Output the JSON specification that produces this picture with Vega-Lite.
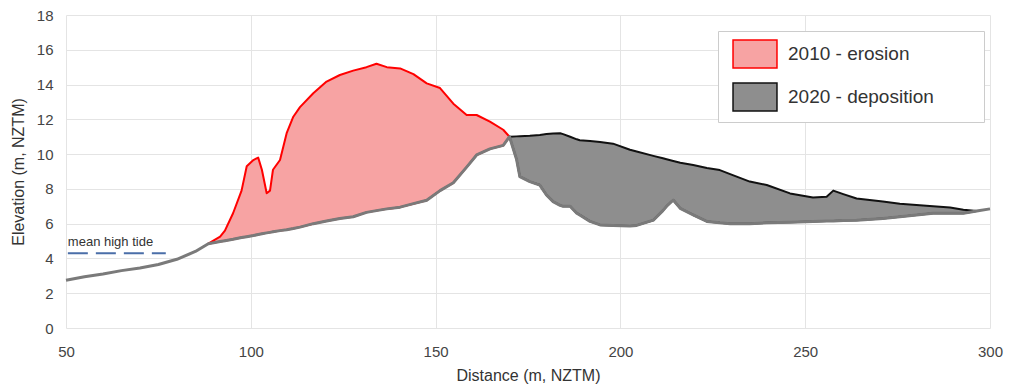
{
  "$schema": "https://vega.github.io/schema/vega-lite/v6.json",
  "width": 924,
  "height": 313,
  "autosize": {"type": "none"},
  "padding": {"left": 66, "top": 15, "right": 25, "bottom": 60},
  "background": "white",
  "config": {
    "font": "Liberation Sans",
    "view": {"stroke": null},
    "axis": {
      "grid": true,
      "gridColor": "#e4e4e4",
      "gridWidth": 1,
      "domain": false,
      "ticks": false,
      "labelFontSize": 15,
      "labelColor": "#444444",
      "labelOverlap": false,
      "labelFlush": false,
      "titleFontSize": 16,
      "titleFontWeight": "normal",
      "titleColor": "#333333"
    }
  },
  "datasets": {
    "profile": [
      {"x": 50, "top": null, "base": 2.75, "zone": "shore"},
      {"x": 55, "top": null, "base": 2.95, "zone": "shore"},
      {"x": 60, "top": null, "base": 3.1, "zone": "shore"},
      {"x": 65, "top": null, "base": 3.3, "zone": "shore"},
      {"x": 70, "top": null, "base": 3.45, "zone": "shore"},
      {"x": 75, "top": null, "base": 3.65, "zone": "shore"},
      {"x": 80, "top": null, "base": 3.95, "zone": "shore"},
      {"x": 85, "top": null, "base": 4.4, "zone": "shore"},
      {"x": 88.5, "top": 4.85, "base": 4.85, "zone": "2010 - erosion"},
      {"x": 91.7, "top": 5.25, "base": 4.97, "zone": "2010 - erosion"},
      {"x": 93, "top": 5.6, "base": 5.02, "zone": "2010 - erosion"},
      {"x": 95.2, "top": 6.6, "base": 5.1, "zone": "2010 - erosion"},
      {"x": 97.5, "top": 7.9, "base": 5.2, "zone": "2010 - erosion"},
      {"x": 98.9, "top": 9.3, "base": 5.25, "zone": "2010 - erosion"},
      {"x": 100.7, "top": 9.66, "base": 5.32, "zone": "2010 - erosion"},
      {"x": 102, "top": 9.8, "base": 5.38, "zone": "2010 - erosion"},
      {"x": 103, "top": 9.1, "base": 5.42, "zone": "2010 - erosion"},
      {"x": 104.3, "top": 7.75, "base": 5.47, "zone": "2010 - erosion"},
      {"x": 105.2, "top": 7.9, "base": 5.5, "zone": "2010 - erosion"},
      {"x": 106, "top": 9.1, "base": 5.53, "zone": "2010 - erosion"},
      {"x": 107.9, "top": 9.66, "base": 5.6, "zone": "2010 - erosion"},
      {"x": 109.7, "top": 11.2, "base": 5.65, "zone": "2010 - erosion"},
      {"x": 111.5, "top": 12.15, "base": 5.72, "zone": "2010 - erosion"},
      {"x": 113.3, "top": 12.7, "base": 5.8, "zone": "2010 - erosion"},
      {"x": 116.9, "top": 13.5, "base": 6.0, "zone": "2010 - erosion"},
      {"x": 120.5, "top": 14.17, "base": 6.15, "zone": "2010 - erosion"},
      {"x": 124.1, "top": 14.55, "base": 6.3, "zone": "2010 - erosion"},
      {"x": 127.7, "top": 14.8, "base": 6.4, "zone": "2010 - erosion"},
      {"x": 131.3, "top": 15.0, "base": 6.65, "zone": "2010 - erosion"},
      {"x": 134, "top": 15.2, "base": 6.75, "zone": "2010 - erosion"},
      {"x": 136.8, "top": 15.0, "base": 6.85, "zone": "2010 - erosion"},
      {"x": 140.4, "top": 14.93, "base": 6.95, "zone": "2010 - erosion"},
      {"x": 144, "top": 14.6, "base": 7.15, "zone": "2010 - erosion"},
      {"x": 147.6, "top": 14.07, "base": 7.35, "zone": "2010 - erosion"},
      {"x": 151.2, "top": 13.8, "base": 7.9, "zone": "2010 - erosion"},
      {"x": 154.8, "top": 12.9, "base": 8.35, "zone": "2010 - erosion"},
      {"x": 158.4, "top": 12.25, "base": 9.25, "zone": "2010 - erosion"},
      {"x": 161.1, "top": 12.25, "base": 9.95, "zone": "2010 - erosion"},
      {"x": 164.7, "top": 11.87, "base": 10.3, "zone": "2010 - erosion"},
      {"x": 168.3, "top": 11.4, "base": 10.5, "zone": "2010 - erosion"},
      {"x": 170, "top": 11.0, "base": 11.0, "zone": "2010 - erosion"},
      {"x": 170, "top": 11.0, "base": 11.0, "zone": "2020 - deposition"},
      {"x": 171.9, "top": 11.02, "base": 9.7, "zone": "2020 - deposition"},
      {"x": 172.8, "top": 11.03, "base": 8.7, "zone": "2020 - deposition"},
      {"x": 175.5, "top": 11.05, "base": 8.42, "zone": "2020 - deposition"},
      {"x": 178.2, "top": 11.1, "base": 8.22, "zone": "2020 - deposition"},
      {"x": 180, "top": 11.15, "base": 7.65, "zone": "2020 - deposition"},
      {"x": 181.8, "top": 11.18, "base": 7.27, "zone": "2020 - deposition"},
      {"x": 183.7, "top": 11.2, "base": 7.05, "zone": "2020 - deposition"},
      {"x": 184.5, "top": 11.15, "base": 7.0, "zone": "2020 - deposition"},
      {"x": 186.4, "top": 11.0, "base": 7.0, "zone": "2020 - deposition"},
      {"x": 188.2, "top": 10.85, "base": 6.6, "zone": "2020 - deposition"},
      {"x": 189, "top": 10.8, "base": 6.5, "zone": "2020 - deposition"},
      {"x": 191.8, "top": 10.75, "base": 6.13, "zone": "2020 - deposition"},
      {"x": 194.5, "top": 10.7, "base": 5.93, "zone": "2020 - deposition"},
      {"x": 198, "top": 10.6, "base": 5.9, "zone": "2020 - deposition"},
      {"x": 202.6, "top": 10.25, "base": 5.87, "zone": "2020 - deposition"},
      {"x": 204.4, "top": 10.15, "base": 5.9, "zone": "2020 - deposition"},
      {"x": 208.9, "top": 9.9, "base": 6.2, "zone": "2020 - deposition"},
      {"x": 211.5, "top": 9.76, "base": 6.75, "zone": "2020 - deposition"},
      {"x": 212.5, "top": 9.7, "base": 7.0, "zone": "2020 - deposition"},
      {"x": 214.3, "top": 9.6, "base": 7.36, "zone": "2020 - deposition"},
      {"x": 216.2, "top": 9.5, "base": 6.88, "zone": "2020 - deposition"},
      {"x": 219.7, "top": 9.37, "base": 6.5, "zone": "2020 - deposition"},
      {"x": 223.4, "top": 9.2, "base": 6.13, "zone": "2020 - deposition"},
      {"x": 226.9, "top": 9.08, "base": 6.05, "zone": "2020 - deposition"},
      {"x": 229.7, "top": 8.85, "base": 6.0, "zone": "2020 - deposition"},
      {"x": 235, "top": 8.42, "base": 6.0, "zone": "2020 - deposition"},
      {"x": 239.6, "top": 8.22, "base": 6.05, "zone": "2020 - deposition"},
      {"x": 245.9, "top": 7.74, "base": 6.08, "zone": "2020 - deposition"},
      {"x": 252.1, "top": 7.5, "base": 6.12, "zone": "2020 - deposition"},
      {"x": 255.8, "top": 7.55, "base": 6.15, "zone": "2020 - deposition"},
      {"x": 257.6, "top": 7.9, "base": 6.15, "zone": "2020 - deposition"},
      {"x": 260.3, "top": 7.7, "base": 6.18, "zone": "2020 - deposition"},
      {"x": 263.9, "top": 7.45, "base": 6.2, "zone": "2020 - deposition"},
      {"x": 271, "top": 7.27, "base": 6.3, "zone": "2020 - deposition"},
      {"x": 275.6, "top": 7.15, "base": 6.4, "zone": "2020 - deposition"},
      {"x": 280.1, "top": 7.07, "base": 6.5, "zone": "2020 - deposition"},
      {"x": 284.6, "top": 7.0, "base": 6.6, "zone": "2020 - deposition"},
      {"x": 289.2, "top": 6.93, "base": 6.6, "zone": "2020 - deposition"},
      {"x": 292.8, "top": 6.8, "base": 6.6, "zone": "2020 - deposition"},
      {"x": 296.4, "top": 6.73, "base": 6.73, "zone": "2020 - deposition"},
      {"x": 300, "top": null, "base": 6.85, "zone": "shore"}
    ],
    "tide": [
      {"x": 50.5, "y": 4.3, "label": "mean high tide"},
      {"x": 77, "y": 4.3, "label": "mean high tide"}
    ]
  },
  "layer": [
    {
      "data": {"name": "profile"},
      "transform": [{"filter": "datum.zone !== 'shore'"}],
      "mark": {"type": "area", "strokeWidth": 2, "opacity": 1, "strokeJoin": "round"},
      "encoding": {
        "x": {
          "field": "x", "type": "quantitative",
          "scale": {"domain": [50, 300], "nice": false, "zero": false},
          "axis": {"title": "Distance (m, NZTM)", "values": [50, 100, 150, 200, 250, 300], "labelPadding": 16, "titlePadding": 8}
        },
        "y": {
          "field": "top", "type": "quantitative",
          "scale": {"domain": [0, 18], "nice": false},
          "axis": {"title": "Elevation (m, NZTM)", "values": [0, 2, 4, 6, 8, 10, 12, 14, 16, 18], "labelOverlap": false, "labelPadding": 13, "titlePadding": 10}
        },
        "y2": {"field": "base"},
        "color": {
          "field": "zone", "type": "nominal",
          "scale": {"domain": ["2010 - erosion", "2020 - deposition"], "range": ["#f7a3a3", "#8e8e8e"]},
          "legend": {
            "orient": "none", "legendX": 652, "legendY": 16,
            "title": null,
            "fillColor": "white", "strokeColor": "#cccccc", "padding": 8,
            "symbolType": "M-1.57,-1H1.57V1H-1.57Z", "symbolSize": 784,
            "symbolStrokeWidth": 1.5, "symbolOpacity": 1, "symbolOffset": 14,
            "labelFontSize": 19, "labelColor": "#333333", "labelOffset": 18,
            "labelLimit": 400,
            "labelExpr": "datum.label + '\u2800\u2800\u2800'",
            "rowPadding": 9
          }
        },
        "stroke": {
          "field": "zone", "type": "nominal",
          "scale": {"domain": ["2010 - erosion", "2020 - deposition"], "range": ["#ff0000", "#111111"]},
          "legend": null
        }
      }
    },
    {
      "data": {"name": "profile"},
      "mark": {"type": "line", "color": "#7a7a7a", "strokeWidth": 3, "strokeJoin": "round"},
      "encoding": {
        "x": {"field": "x", "type": "quantitative", "axis": {"title": "Distance (m, NZTM)", "values": [50, 100, 150, 200, 250, 300], "labelPadding": 16, "titlePadding": 8}},
        "y": {"field": "base", "type": "quantitative", "axis": {"title": "Elevation (m, NZTM)", "values": [0, 2, 4, 6, 8, 10, 12, 14, 16, 18], "labelOverlap": false, "labelPadding": 13, "titlePadding": 10}}
      }
    },
    {
      "data": {"name": "tide"},
      "mark": {"type": "line", "color": "#4a6ea8", "strokeWidth": 2, "strokeDash": [20, 8]},
      "encoding": {
        "x": {"field": "x", "type": "quantitative", "axis": {"title": "Distance (m, NZTM)", "values": [50, 100, 150, 200, 250, 300], "labelPadding": 16, "titlePadding": 8}},
        "y": {"field": "y", "type": "quantitative", "axis": {"title": "Elevation (m, NZTM)", "values": [0, 2, 4, 6, 8, 10, 12, 14, 16, 18], "labelOverlap": false, "labelPadding": 13, "titlePadding": 10}}
      }
    },
    {
      "data": {"name": "tide"},
      "transform": [{"filter": "datum.x < 60"}],
      "mark": {"type": "text", "align": "left", "baseline": "bottom", "fontSize": 13, "color": "#333333", "dx": 0, "dy": -4},
      "encoding": {
        "x": {"field": "x", "type": "quantitative", "axis": {"title": "Distance (m, NZTM)", "values": [50, 100, 150, 200, 250, 300], "labelPadding": 16, "titlePadding": 8}},
        "y": {"field": "y", "type": "quantitative", "axis": {"title": "Elevation (m, NZTM)", "values": [0, 2, 4, 6, 8, 10, 12, 14, 16, 18], "labelOverlap": false, "labelPadding": 13, "titlePadding": 10}},
        "text": {"field": "label"}
      }
    }
  ]
}
